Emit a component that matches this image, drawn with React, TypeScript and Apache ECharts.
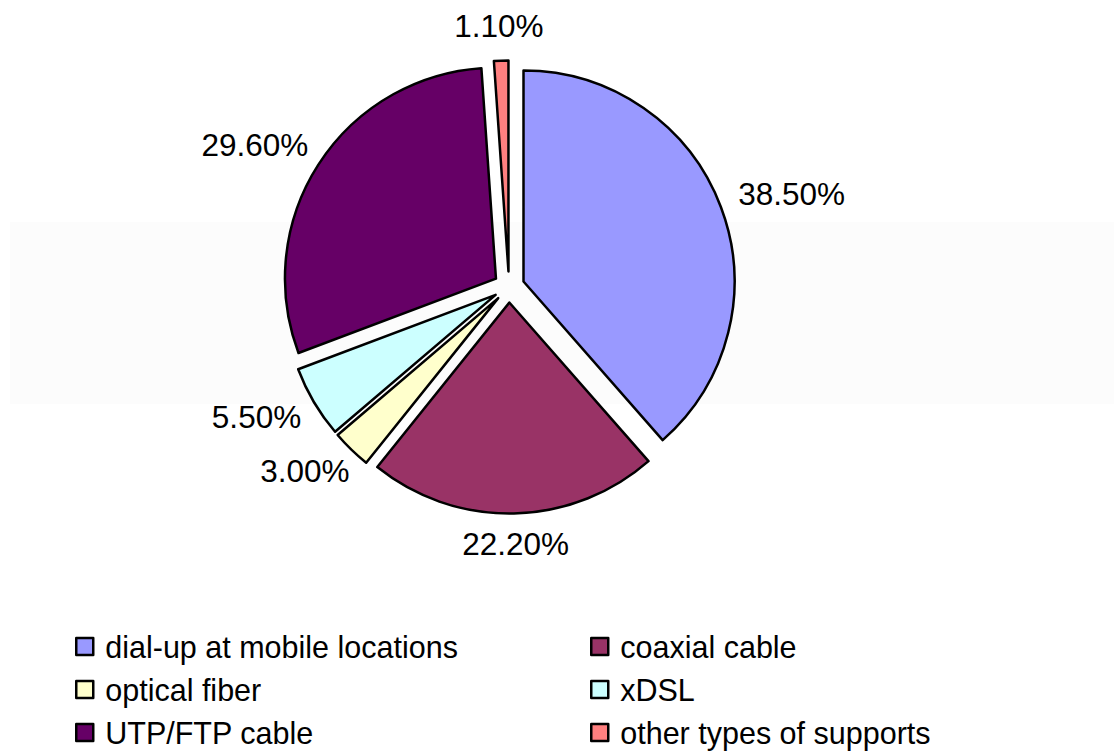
import React, { useEffect, useRef } from "react";
import * as echarts from "echarts";

const categories = [
  "dial-up at mobile locations",
  "coaxial cable",
  "optical fiber",
  "xDSL",
  "UTP/FTP cable",
  "other types of supports",
];
const values = [38.5, 22.2, 3.0, 5.5, 29.6, 1.1];
const colors = ["#9999FF", "#993366", "#FFFFCC", "#CCFFFF", "#660066", "#FF8080"];
const legendLeft = ["dial-up at mobile locations", "optical fiber", "UTP/FTP cable"];
const legendRight = ["coaxial cable", "xDSL", "other types of supports"];

const CX = 509;
const CY = 287;
const RADIUS = 211;
const OFFSET = 15.5;
const GAP = 22;
const LABEL_SIZE = 31.5;
const GLYPH_H = 22;
const FONT = "'Liberation Sans', Arial, sans-serif";

export default function App() {
  const ref = useRef<HTMLDivElement>(null);
  useEffect(() => {
    if (!ref.current) return;
    const chart = echarts.init(ref.current, null, { renderer: "svg" });
    const total = values.reduce((a, b) => a + b, 0);
    const ctx = document.createElement("canvas").getContext("2d")!;
    ctx.font = `${LABEL_SIZE}px ${FONT}`;
    const labels: any[] = [];
    let acc = 0;
    values.forEach((v) => {
      const a = ((acc + v / 2) / total) * Math.PI * 2;
      acc += v;
      const text = v.toFixed(2) + "%";
      const w = ctx.measureText(text).width;
      const dx = Math.sin(a);
      const dy = -Math.cos(a);
      const dist = OFFSET + RADIUS + GAP;
      labels.push({
        type: "text",
        x: CX + dx * dist + (dx * w) / 2,
        y: CY + dy * dist + (dy * GLYPH_H) / 2 - 2,
        silent: true,
        z: 10,
        style: {
          text,
          fill: "#000",
          font: `${LABEL_SIZE}px ${FONT}`,
          align: "center",
          verticalAlign: "middle",
        },
      });
    });
    const legendBase = {
      orient: "vertical",
      top: 631,
      height: 400,
      padding: 0,
      itemWidth: 17,
      itemHeight: 17,
      itemGap: 12,
      icon: "rect",
      selectedMode: false,
      itemStyle: { borderColor: "#000", borderWidth: 2.5 },
      textStyle: {
        fontFamily: FONT,
        fontSize: 30.5,
        color: "#000",
        lineHeight: 28,
        padding: [0, 0, 0, 7],
      },
    };
    chart.setOption({
      animation: false,
      backgroundColor: "#ffffff",
      graphic: [
        {
          type: "rect",
          z: -10,
          shape: { x: 10, y: 222, width: 1104, height: 182 },
          style: { fill: "#fcfcfc" },
          silent: true,
        },
        ...labels,
      ],
      legend: [
        { ...legendBase, left: 75, data: legendLeft },
        { ...legendBase, left: 590, data: legendRight },
      ],
      series: [
        {
          type: "pie",
          center: [CX, CY],
          radius: RADIUS,
          startAngle: 90,
          clockwise: true,
          selectedMode: "multiple",
          selectedOffset: OFFSET,
          emphasis: { disabled: true },
          itemStyle: { borderColor: "#000", borderWidth: 2.5 },
          label: { show: false },
          labelLine: { show: false },
          data: categories.map((name, i) => ({
            name,
            value: values[i],
            selected: true,
            itemStyle: { color: colors[i] },
          })),
        },
      ],
    });
    return () => chart.dispose();
  }, []);
  return (
    <div
      ref={ref}
      style={{ position: "absolute", left: 0, top: 0, width: 1114, height: 754 }}
    />
  );
}
